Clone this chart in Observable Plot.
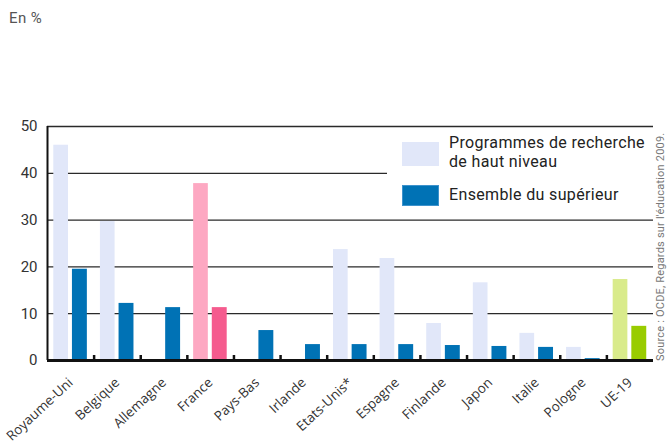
<!DOCTYPE html>
<html>
<head>
<meta charset="utf-8">
<script src="https://cdn.jsdelivr.net/npm/d3@7"></script>
<script src="https://cdn.jsdelivr.net/npm/@observablehq/plot@0.6"></script>
<style>
  html, body { margin: 0; padding: 0; background: #fff; }
  #wrap { position: relative; width: 667px; height: 444px; overflow: hidden; }
  #wrap svg { position: absolute; left: 0; top: 0; }
  .unit { position: absolute; left: 9px; top: 9px; font: 15px Roboto, sans-serif; letter-spacing: 0.4px; color: #555; }
  .legend { position: absolute; left: 387px; top: 128px; width: 266px; height: 90px; background: #fff; font: 16px Roboto, sans-serif; letter-spacing: 0.35px; color: #222; }
  .sw { position: absolute; width: 37px; }
  .lt { position: absolute; left: 62px; line-height: 19px; }
  .source { position: absolute; left: 655px; top: 361px; transform-origin: 0 0; transform: rotate(-90deg); white-space: nowrap; font: 11px Roboto, sans-serif; letter-spacing: 0.2px; color: #777; line-height: 12px; }
</style>
</head>
<body>
<div id="wrap"></div>
<script>
const countries = ["Royaume-Uni","Belgique","Allemagne","France","Pays-Bas","Irlande","Etats-Unis*","Espagne","Finlande","Japon","Italie","Pologne","UE-19"];
const recherche = [46, 29.7, null, 37.8, null, null, 23.7, 21.8, 7.9, 16.6, 5.8, 2.8, 17.3];
const superieur = [19.5, 12.2, 11.3, 11.3, 6.4, 3.4, 3.4, 3.4, 3.2, 3.0, 2.8, 0.4, 7.3];
const yTicks = [0, 10, 20, 30, 40, 50];
const seriesLabels = ["Programmes de recherche de haut niveau", "Ensemble du supérieur"];
const unitLabel = "En %";
const sourceText = "Source : OCDE, Regards sur l'éducation 2009.";

const palette = {
  base: ["#e1e7f9", "#0072b5"],
  "France": ["#fda8c2", "#f55b8e"],
  "UE-19": ["#d9eb8b", "#99cc00"]
};
const colorOf = (c, s) => (palette[c] || palette.base)[s];

const rowsA = countries.map((c, i) => ({country: c, value: recherche[i], fill: colorOf(c, 0)})).filter(d => d.value != null);
const rowsB = countries.map((c, i) => ({country: c, value: superieur[i], fill: colorOf(c, 1)})).filter(d => d.value != null);

const W = 667, H = 444, mL = 47, mR = 14, mT = 126, mB = 84;
const step = (W - mL - mR) / countries.length;

const chart = Plot.plot({
  width: W, height: H,
  marginLeft: mL, marginRight: mR, marginTop: mT, marginBottom: mB,
  style: {fontFamily: "Roboto, sans-serif", fontSize: "15px", color: "#333", background: "transparent"},
  x: {domain: countries, padding: 0, round: false, label: null, tickSize: 0, tickRotate: -43, tickPadding: 20},
  y: {domain: [0, 50], ticks: yTicks, tickSize: 0, tickPadding: 10, label: null},
  color: {type: "identity"},
  marks: [
    Plot.ruleY(yTicks.slice(1), {stroke: "#2a2a2a", strokeWidth: 1.3}),
    Plot.barY(rowsA, {x: "country", y: "value", fill: "fill", insetLeft: step * 0.135, insetRight: step * 0.55}),
    Plot.barY(rowsB, {x: "country", y: "value", fill: "fill", insetLeft: step * 0.535, insetRight: step * 0.145}),
    Plot.ruleX(countries.slice(1), {x: d => d, dx: -step / 2, insetTop: (H - mT - mB) - 5, stroke: "#111", strokeWidth: 2.5}),
    Plot.ruleX([countries[0]], {x: d => d, dx: -step / 2, stroke: "#111", strokeWidth: 2}),
    Plot.ruleY([0], {stroke: "#111", strokeWidth: 3})
  ]
});
chart.querySelectorAll('g[aria-label="x-axis tick label"] text, g[aria-label="x-axis tick label"]').forEach(el => { el.style.fontSize = "13.5px"; el.style.fontFamily = "'Open Sans', sans-serif"; });

const wrap = document.getElementById("wrap");
wrap.appendChild(chart);

const unit = document.createElement("div");
unit.className = "unit"; unit.textContent = unitLabel;
wrap.appendChild(unit);

const legend = document.createElement("div");
legend.className = "legend";
const s1 = document.createElement("div"); s1.className = "sw";
s1.style.cssText = `left:15px;top:14px;height:24px;background:${palette.base[0]}`;
const s2 = document.createElement("div"); s2.className = "sw";
s2.style.cssText = `left:15px;top:57px;height:21px;background:${palette.base[1]};box-shadow:0 0 0 1px #3d92cc inset`;
const t1 = document.createElement("div"); t1.className = "lt"; t1.style.top = "5px";
t1.innerHTML = "Programmes de recherche<br>de haut niveau";
const t2 = document.createElement("div"); t2.className = "lt"; t2.style.top = "57px";
t2.textContent = seriesLabels[1];
legend.append(s1, s2, t1, t2);
wrap.appendChild(legend);

const src = document.createElement("div");
src.className = "source"; src.textContent = sourceText;
wrap.appendChild(src);
</script>
</body>
</html>
